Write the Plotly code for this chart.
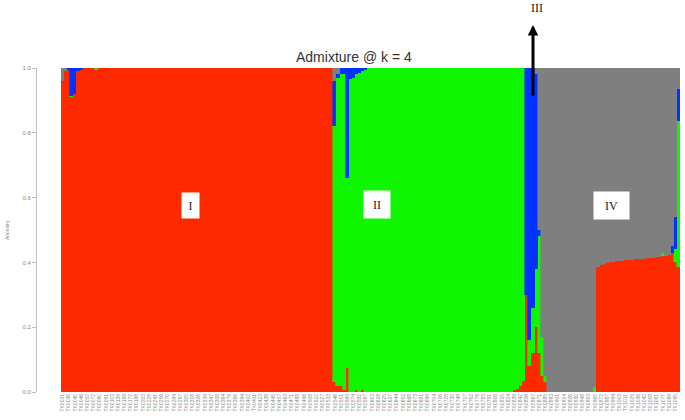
import plotly.graph_objects as go

# admixture proportions per sample, k = 4 (red, green, blue, gray), grouped by cluster
# cluster I (88 samples)
g1_red = [
    0.96, 0.99, 0.995, 0.91, 0.92, 0.99, 0.995, 1, 1, 1, 1, 0.995, 1, 1, 1, 1, 1, 1, 1, 1,
    1, 1, 1, 1, 1, 1, 1, 1, 1, 1, 1, 1, 1, 1, 1, 1, 1, 1, 1, 1,
    1, 1, 1, 1, 1, 1, 1, 1, 1, 1, 1, 1, 1, 1, 1, 1, 1, 1, 1, 1,
    1, 1, 1, 1, 1, 1, 1, 1, 1, 1, 1, 1, 1, 1, 1, 1, 1, 1, 1, 1,
    1, 1, 1, 1, 1, 1, 1, 1,
]
g1_green = [
    0, 0, 0, 0.005, 0, 0, 0, 0, 0, 0, 0, 0.005, 0, 0, 0, 0, 0, 0, 0, 0,
    0, 0, 0, 0, 0, 0, 0, 0, 0, 0, 0, 0, 0, 0, 0, 0, 0, 0, 0, 0,
    0, 0, 0, 0, 0, 0, 0, 0, 0, 0, 0, 0, 0, 0, 0, 0, 0, 0, 0, 0,
    0, 0, 0, 0, 0, 0, 0, 0, 0, 0, 0, 0, 0, 0, 0, 0, 0, 0, 0, 0,
    0, 0, 0, 0, 0, 0, 0, 0,
]
g1_blue = [
    0, 0, 0.005, 0.085, 0.08, 0.01, 0.005, 0, 0, 0, 0, 0, 0, 0, 0, 0, 0, 0, 0, 0,
    0, 0, 0, 0, 0, 0, 0, 0, 0, 0, 0, 0, 0, 0, 0, 0, 0, 0, 0, 0,
    0, 0, 0, 0, 0, 0, 0, 0, 0, 0, 0, 0, 0, 0, 0, 0, 0, 0, 0, 0,
    0, 0, 0, 0, 0, 0, 0, 0, 0, 0, 0, 0, 0, 0, 0, 0, 0, 0, 0, 0,
    0, 0, 0, 0, 0, 0, 0, 0,
]
g1_gray = [
    0.04, 0.01, 0, 0, 0, 0, 0, 0, 0, 0, 0, 0, 0, 0, 0, 0, 0, 0, 0, 0,
    0, 0, 0, 0, 0, 0, 0, 0, 0, 0, 0, 0, 0, 0, 0, 0, 0, 0, 0, 0,
    0, 0, 0, 0, 0, 0, 0, 0, 0, 0, 0, 0, 0, 0, 0, 0, 0, 0, 0, 0,
    0, 0, 0, 0, 0, 0, 0, 0, 0, 0, 0, 0, 0, 0, 0, 0, 0, 0, 0, 0,
    0, 0, 0, 0, 0, 0, 0, 0,
]

# cluster II (62 samples)
g2_red = [
    0.03, 0.02, 0.02, 0.005, 0.075, 0, 0, 0.005, 0, 0.005, 0, 0, 0, 0, 0, 0, 0, 0, 0, 0,
    0, 0, 0, 0, 0, 0, 0, 0, 0, 0, 0, 0, 0, 0, 0, 0, 0, 0, 0, 0,
    0, 0, 0, 0, 0, 0, 0, 0, 0, 0, 0, 0, 0, 0, 0, 0, 0, 0, 0.005, 0.01,
    0.02, 0.035,
]
g2_green = [
    0.79, 0.95, 0.96, 0.975, 0.585, 0.965, 0.97, 0.975, 0.985, 0.985, 0.995, 1, 1, 1, 1, 1, 1, 1, 1, 1,
    1, 1, 1, 1, 1, 1, 1, 1, 1, 1, 1, 1, 1, 1, 1, 1, 1, 1, 1, 1,
    1, 1, 1, 1, 1, 1, 1, 1, 1, 1, 1, 1, 1, 1, 1, 1, 1, 1, 0.995, 0.99,
    0.98, 0.965,
]
g2_blue = [
    0.14, 0.01, 0.02, 0.02, 0.34, 0.035, 0.03, 0.02, 0.015, 0.01, 0.005, 0, 0, 0, 0, 0, 0, 0, 0, 0,
    0, 0, 0, 0, 0, 0, 0, 0, 0, 0, 0, 0, 0, 0, 0, 0, 0, 0, 0, 0,
    0, 0, 0, 0, 0, 0, 0, 0, 0, 0, 0, 0, 0, 0, 0, 0, 0, 0, 0, 0,
    0, 0,
]
g2_gray = [
    0.04, 0.02, 0, 0, 0, 0, 0, 0, 0, 0, 0, 0, 0, 0, 0, 0, 0, 0, 0, 0,
    0, 0, 0, 0, 0, 0, 0, 0, 0, 0, 0, 0, 0, 0, 0, 0, 0, 0, 0, 0,
    0, 0, 0, 0, 0, 0, 0, 0, 0, 0, 0, 0, 0, 0, 0, 0, 0, 0, 0, 0,
    0, 0,
]

# cluster III (5 samples)
g3_red = [0.30, 0.08, 0.12, 0.20, 0.12]
g3_green = [0, 0.08, 0.14, 0.18, 0.36]
g3_blue = [0.70, 0.84, 0.74, 0.60, 0.02]
g3_gray = [0, 0, 0, 0.02, 0.50]

# cluster IV (45 samples)
g4_red = [
    0.05, 0.03, 0, 0, 0, 0, 0, 0, 0, 0, 0, 0, 0, 0, 0, 0, 0, 0,
    0.385, 0.392, 0.396, 0.398, 0.400, 0.402, 0.403, 0.404, 0.405, 0.406, 0.407, 0.408,
    0.409, 0.410, 0.411, 0.412, 0.413, 0.414, 0.415, 0.416, 0.418, 0.419, 0.421, 0.423,
    0.43, 0.40, 0.385,
]
g4_green = [
    0.12, 0.02, 0, 0, 0, 0, 0, 0, 0, 0, 0, 0, 0, 0, 0, 0, 0, 0.015,
    0, 0, 0, 0, 0, 0, 0, 0, 0, 0, 0, 0,
    0, 0, 0, 0, 0, 0, 0, 0, 0, 0.01, 0, 0,
    0, 0.04, 0.45,
]
g4_blue = [
    0, 0, 0, 0, 0, 0, 0, 0, 0, 0, 0, 0, 0, 0, 0, 0, 0, 0,
    0, 0, 0, 0, 0, 0, 0, 0, 0, 0, 0, 0,
    0, 0, 0, 0, 0, 0, 0, 0, 0, 0, 0, 0,
    0.02, 0.10, 0.10,
]
g4_gray = [
    0.83, 0.95, 1, 1, 1, 1, 1, 1, 1, 1, 1, 1, 1, 1, 1, 1, 1, 0.985,
    0.615, 0.608, 0.604, 0.602, 0.600, 0.598, 0.597, 0.596, 0.595, 0.594, 0.593, 0.592,
    0.591, 0.590, 0.589, 0.588, 0.587, 0.586, 0.585, 0.584, 0.582, 0.571, 0.579, 0.577,
    0.55, 0.46, 0.065,
]

# sample ids shown on the x axis (every other sample)
sample_labels = [
    "TK0031", "TK0036", "TK0040", "TK0046", "TK0052", "TK0072", "TK0080", "TK0091", "TK0103", "TK0139",
    "TK0158", "TK0172", "TK0188", "TK0203", "TK0229", "TK0241", "TK0256", "TK0270", "TK0284", "TK0297",
    "TK0305", "TK0318", "TK0326", "TK0339", "TK0347", "TK0358", "TK0364", "TK0379", "TK0386", "TK0394",
    "TK0402", "TK0411", "TK0423", "TK0438", "TK0445", "TK0457", "TK0463", "TK0471", "TK0489", "TK0496",
    "TK0508", "TK0512", "TK0527", "TK0533", "TK0546", "TK0551", "TK0569", "TK0574", "TK0582", "TK0597",
    "TK0603", "TK0618", "TK0625", "TK0637", "TK0644", "TK0652", "TK0668", "TK0673", "TK0681", "TK0699",
    "TK0704", "TK0716", "TK0728", "TK0735", "TK0749", "TK0757", "TK0762", "TK0778", "TK0783", "TK0791",
    "TK0806", "TK0815", "TK0824", "TK0839", "TK0842", "TK0856", "TK0867", "TK0871", "TK0885", "TK0893",
    "TK0901", "TK0914", "TK0926", "TK0930", "TK0948", "TK0953", "TK0965", "TK0972", "TK0987", "TK0994",
    "TK1003", "TK1011", "TK1025", "TK1036", "TK1042", "TK1058", "TK1061", "TK1077", "TK1089", "TK1095",
]

y_ticks = [0.0, 0.2, 0.4, 0.6, 0.8, 1.0]
y_ticktext = ["0.0", "0.2", "0.4", "0.6", "0.8", "1.0"]

red = g1_red + g2_red + g3_red + g4_red
green = g1_green + g2_green + g3_green + g4_green
blue = g1_blue + g2_blue + g3_blue + g4_blue
gray = g1_gray + g2_gray + g3_gray + g4_gray
idx = list(range(len(red)))

fig = go.Figure()
for vals, col in [(red, "#FF2900"), (green, "#10F500"), (blue, "#0033FF"), (gray, "#7F7F7F")]:
    fig.add_trace(go.Bar(x=idx, y=vals, marker_color=col,
                         marker_line_color=col, marker_line_width=0.6,
                         showlegend=False, hoverinfo="skip"))

W, H = 685, 420
ml, mr, mt, mb = 36, 5, 68, 28
pw, ph = W - ml - mr, H - mt - mb


def px(x):
    return (x - ml) / pw


def py(y):
    return (H - mb - y) / ph


fig.update_layout(
    width=W, height=H,
    margin=dict(l=ml, r=mr, t=mt, b=mb),
    barmode="stack", bargap=0,
    plot_bgcolor="white", paper_bgcolor="white",
    font=dict(family="Liberation Sans", color="#777"),
    xaxis=dict(domain=[px(61), 1], range=[-0.5, len(red) - 0.5],
               tickvals=idx[::2], ticktext=sample_labels,
               tickangle=-90, tickfont=dict(size=5, color="#888"),
               showgrid=False, zeroline=False, showline=False, ticks="",
               automargin=False),
    yaxis=dict(range=[0, 1], anchor="free", position=0,
               tickvals=y_ticks, ticktext=y_ticktext,
               tickfont=dict(size=6, color="#888"),
               ticks="outside", ticklen=4, tickcolor="#bbb",
               showline=True, linecolor="#c4c4c4", linewidth=1,
               showgrid=False, zeroline=False, automargin=False),
)


def note(x, y, text, **kw):
    fig.add_annotation(x=px(x), y=py(y), xref="paper", yref="paper", text=text,
                       xanchor="center", yanchor="middle", **kw)


# title and y label
note(354, 57, "Admixture @ k = 4", showarrow=False,
     font=dict(family="Liberation Sans", size=14, color="#333"))
note(7, 230, "Ancestry", textangle=-90, showarrow=False,
     font=dict(size=5, color="#888"))

# cluster labels
serif = dict(family="Liberation Serif", size=12, color="#222")
for txt, xc, yc, w, h in [("I", 190, 205, 17, 25), ("II", 377, 204, 26, 27), ("IV", 611, 205, 35, 27)]:
    note(xc, yc, txt, showarrow=False, font=serif, bgcolor="white",
         width=w, height=h, borderpad=0)

note(537, 8, "III", showarrow=False, font=serif)
note(533, 25, "", showarrow=True, ax=0, ay=72, arrowhead=2, arrowsize=0.7,
     arrowwidth=3, arrowcolor="black")

# drop the default page margin so the figure sits at the window origin
fig.write_html("out.html", config={"displayModeBar": False},
               post_script="document.body.style.margin='0';")
